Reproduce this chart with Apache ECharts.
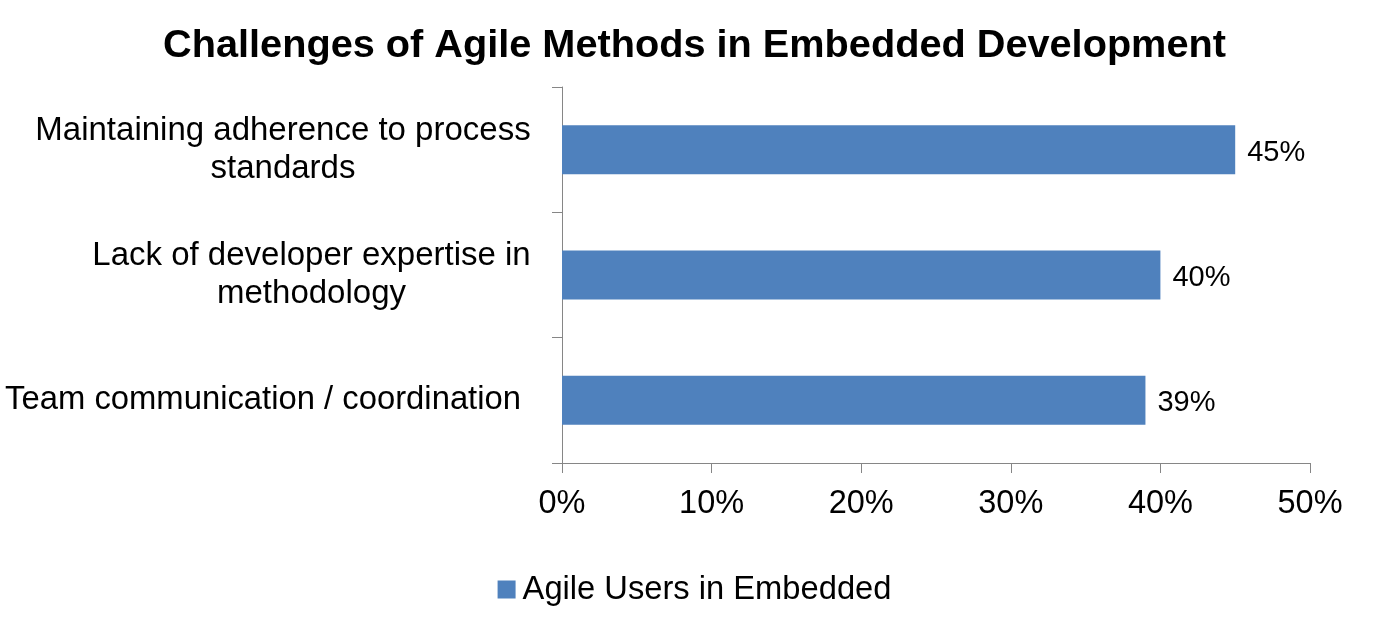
<!DOCTYPE html>
<html>
<head>
<meta charset="utf-8">
<script src="https://cdn.jsdelivr.net/npm/echarts@6/dist/echarts.min.js"></script>
<style>html,body{margin:0;padding:0;background:#fff;}#c{width:1389px;height:639px;}</style>
</head>
<body>
<div id="c"></div>
<script>
const titleText = 'Challenges of Agile Methods in Embedded Development';
const categories = [
  'Maintaining adherence to process\nstandards',
  'Lack of developer expertise in\nmethodology',
  'Team communication / coordination'
];
const seriesName = 'Agile Users in Embedded';
const values = [45, 40, 39];
const xTicks = [0, 10, 20, 30, 40, 50];

const font = 'Liberation Sans, Arial, sans-serif';
const chart = echarts.init(document.getElementById('c'));
chart.setOption({
  animation: false,
  backgroundColor: '#fff',
  title: {
    text: titleText,
    left: 'center',
    top: 21,
    textStyle: { fontFamily: font, fontSize: 39.7, fontWeight: 'bold', color: '#000' }
  },
  legend: {
    bottom: 28,
    left: 'center',
    itemWidth: 18,
    itemHeight: 18,
    itemGap: 10,
    icon: 'rect',
    textStyle: { fontFamily: font, fontSize: 32.7, color: '#000', padding: [0, 0, 0, 2] },
    data: [seriesName]
  },
  grid: { left: 562, right: 79, top: 87, bottom: 176, containLabel: false, outerBoundsMode: 'none' },
  xAxis: {
    type: 'value',
    min: xTicks[0],
    max: xTicks[xTicks.length - 1],
    interval: 10,
    axisLine: { show: true, lineStyle: { color: '#868686', width: 1 } },
    axisTick: { show: true, length: 10, lineStyle: { color: '#868686' } },
    splitLine: { show: false },
    axisLabel: {
      formatter: '{value}%',
      margin: 25,
      fontFamily: font, fontSize: 32.5, color: '#000'
    }
  },
  yAxis: {
    type: 'category',
    inverse: true,
    data: categories,
    axisLine: { show: true, lineStyle: { color: '#868686', width: 1 } },
    axisTick: { show: true, length: 10, lineStyle: { color: '#868686' } },
    axisLabel: {
      margin: 31,
      align: 'right',
      fontFamily: font, fontSize: 33, color: '#000', lineHeight: 38,
      formatter: function (v, i) {
        return v.split('\n').map(function (l) { return '{w' + i + '|' + l + '}'; }).join('\n');
      },
      rich: {
        w0: { width: 496, align: 'center', fontFamily: font, fontSize: 33, color: '#000', lineHeight: 38 },
        w1: { width: 439, align: 'center', fontFamily: font, fontSize: 33, color: '#000', lineHeight: 38 },
        w2: { align: 'right', padding: [0, 10, 0, 0], fontFamily: font, fontSize: 32.8, color: '#000', lineHeight: 38 }
      }
    }
  },
  series: [{
    name: seriesName,
    type: 'bar',
    data: values,
    barWidth: 49,
    itemStyle: { color: '#4F81BD' },
    label: {
      show: true,
      position: 'right',
      distance: 12,
      offset: [0, 3],
      formatter: '{c}%',
      fontFamily: font, fontSize: 29, color: '#000'
    }
  }]
});
</script>
</body>
</html>
